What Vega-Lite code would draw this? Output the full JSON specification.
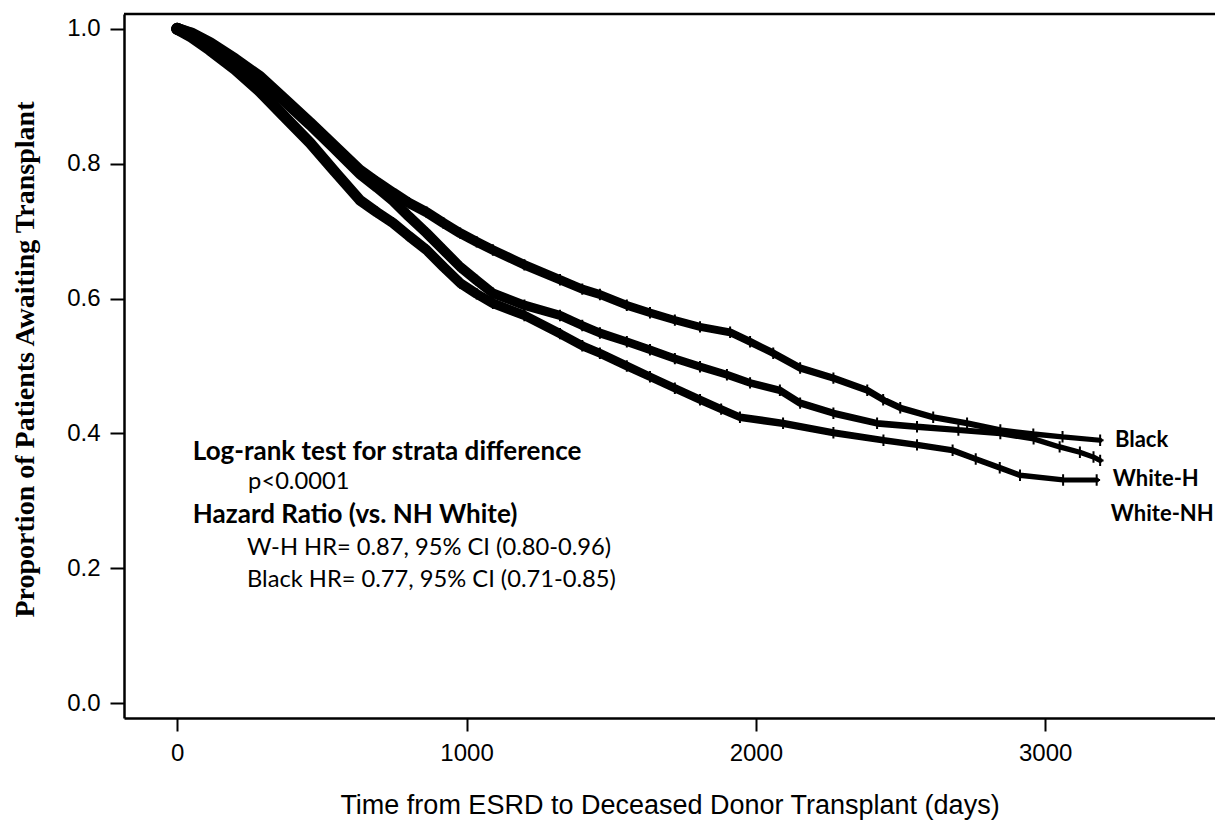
{
  "$schema": "https://vega.github.io/schema/vega-lite/v6.json",
  "width": 1091,
  "height": 704,
  "autosize": {"type": "none"},
  "padding": {"left": 124, "top": 14, "right": 0, "bottom": 102},
  "background": "white",
  "config": {
    "view": {"stroke": null},
    "axis": {"grid": false}
  },
  "datasets": {
    "curves": [
      {"group": "Black", "t": 0, "s": 1.0},
      {"group": "Black", "t": 50, "s": 0.993},
      {"group": "Black", "t": 113, "s": 0.979},
      {"group": "Black", "t": 200, "s": 0.955},
      {"group": "Black", "t": 286, "s": 0.929},
      {"group": "Black", "t": 370, "s": 0.896},
      {"group": "Black", "t": 459, "s": 0.861},
      {"group": "Black", "t": 545, "s": 0.826},
      {"group": "Black", "t": 631, "s": 0.791},
      {"group": "Black", "t": 690, "s": 0.773},
      {"group": "Black", "t": 746, "s": 0.757},
      {"group": "Black", "t": 800, "s": 0.742},
      {"group": "Black", "t": 862, "s": 0.728},
      {"group": "Black", "t": 920, "s": 0.712},
      {"group": "Black", "t": 978, "s": 0.697},
      {"group": "Black", "t": 1035, "s": 0.684},
      {"group": "Black", "t": 1091, "s": 0.672},
      {"group": "Black", "t": 1200, "s": 0.65},
      {"group": "Black", "t": 1323, "s": 0.628},
      {"group": "Black", "t": 1400, "s": 0.614},
      {"group": "Black", "t": 1461, "s": 0.606},
      {"group": "Black", "t": 1554, "s": 0.59},
      {"group": "Black", "t": 1634, "s": 0.579},
      {"group": "Black", "t": 1720, "s": 0.568},
      {"group": "Black", "t": 1807, "s": 0.558},
      {"group": "Black", "t": 1911, "s": 0.55},
      {"group": "Black", "t": 1980, "s": 0.536},
      {"group": "Black", "t": 2060, "s": 0.519},
      {"group": "Black", "t": 2153, "s": 0.497},
      {"group": "Black", "t": 2268, "s": 0.482},
      {"group": "Black", "t": 2385, "s": 0.464},
      {"group": "Black", "t": 2440, "s": 0.45},
      {"group": "Black", "t": 2499, "s": 0.438},
      {"group": "Black", "t": 2613, "s": 0.424},
      {"group": "Black", "t": 2730, "s": 0.415},
      {"group": "Black", "t": 2845, "s": 0.405},
      {"group": "Black", "t": 2959, "s": 0.399},
      {"group": "Black", "t": 3060, "s": 0.395},
      {"group": "Black", "t": 3190, "s": 0.39},
      {"group": "White-H", "t": 0, "s": 1.0},
      {"group": "White-H", "t": 50, "s": 0.992},
      {"group": "White-H", "t": 113, "s": 0.977},
      {"group": "White-H", "t": 200, "s": 0.953},
      {"group": "White-H", "t": 286, "s": 0.926},
      {"group": "White-H", "t": 370, "s": 0.893},
      {"group": "White-H", "t": 459, "s": 0.858},
      {"group": "White-H", "t": 545, "s": 0.822},
      {"group": "White-H", "t": 631, "s": 0.785},
      {"group": "White-H", "t": 690, "s": 0.765},
      {"group": "White-H", "t": 746, "s": 0.745},
      {"group": "White-H", "t": 800, "s": 0.722},
      {"group": "White-H", "t": 862, "s": 0.697},
      {"group": "White-H", "t": 920, "s": 0.672},
      {"group": "White-H", "t": 978, "s": 0.647},
      {"group": "White-H", "t": 1035, "s": 0.627},
      {"group": "White-H", "t": 1091, "s": 0.608},
      {"group": "White-H", "t": 1200, "s": 0.59},
      {"group": "White-H", "t": 1323, "s": 0.575},
      {"group": "White-H", "t": 1400, "s": 0.56},
      {"group": "White-H", "t": 1461, "s": 0.549},
      {"group": "White-H", "t": 1554, "s": 0.536},
      {"group": "White-H", "t": 1634, "s": 0.524},
      {"group": "White-H", "t": 1720, "s": 0.511},
      {"group": "White-H", "t": 1807, "s": 0.499},
      {"group": "White-H", "t": 1900, "s": 0.487},
      {"group": "White-H", "t": 1980, "s": 0.475},
      {"group": "White-H", "t": 2083, "s": 0.464},
      {"group": "White-H", "t": 2153, "s": 0.445},
      {"group": "White-H", "t": 2268, "s": 0.43},
      {"group": "White-H", "t": 2419, "s": 0.415},
      {"group": "White-H", "t": 2557, "s": 0.41},
      {"group": "White-H", "t": 2700, "s": 0.405},
      {"group": "White-H", "t": 2845, "s": 0.4},
      {"group": "White-H", "t": 2960, "s": 0.392},
      {"group": "White-H", "t": 3050, "s": 0.38},
      {"group": "White-H", "t": 3120, "s": 0.372},
      {"group": "White-H", "t": 3167, "s": 0.365},
      {"group": "White-H", "t": 3190, "s": 0.36},
      {"group": "White-NH", "t": 0, "s": 1.0},
      {"group": "White-NH", "t": 50, "s": 0.988},
      {"group": "White-NH", "t": 113, "s": 0.969},
      {"group": "White-NH", "t": 200, "s": 0.94},
      {"group": "White-NH", "t": 286, "s": 0.907},
      {"group": "White-NH", "t": 370, "s": 0.87},
      {"group": "White-NH", "t": 459, "s": 0.831},
      {"group": "White-NH", "t": 545, "s": 0.788},
      {"group": "White-NH", "t": 631, "s": 0.746},
      {"group": "White-NH", "t": 690, "s": 0.728},
      {"group": "White-NH", "t": 746, "s": 0.712},
      {"group": "White-NH", "t": 800, "s": 0.693},
      {"group": "White-NH", "t": 862, "s": 0.672},
      {"group": "White-NH", "t": 920, "s": 0.647},
      {"group": "White-NH", "t": 978, "s": 0.623},
      {"group": "White-NH", "t": 1035, "s": 0.607},
      {"group": "White-NH", "t": 1091, "s": 0.593},
      {"group": "White-NH", "t": 1200, "s": 0.575},
      {"group": "White-NH", "t": 1323, "s": 0.548},
      {"group": "White-NH", "t": 1400, "s": 0.53},
      {"group": "White-NH", "t": 1461, "s": 0.519},
      {"group": "White-NH", "t": 1554, "s": 0.5},
      {"group": "White-NH", "t": 1634, "s": 0.484},
      {"group": "White-NH", "t": 1720, "s": 0.467},
      {"group": "White-NH", "t": 1807, "s": 0.45},
      {"group": "White-NH", "t": 1880, "s": 0.436},
      {"group": "White-NH", "t": 1945, "s": 0.424},
      {"group": "White-NH", "t": 2094, "s": 0.415},
      {"group": "White-NH", "t": 2268, "s": 0.401},
      {"group": "White-NH", "t": 2441, "s": 0.39},
      {"group": "White-NH", "t": 2557, "s": 0.383},
      {"group": "White-NH", "t": 2680, "s": 0.375},
      {"group": "White-NH", "t": 2760, "s": 0.362},
      {"group": "White-NH", "t": 2843, "s": 0.349},
      {"group": "White-NH", "t": 2913, "s": 0.338},
      {"group": "White-NH", "t": 3062, "s": 0.331},
      {"group": "White-NH", "t": 3178, "s": 0.331}
    ],
    "boldNotes": [
      {"label": "Log-rank test for strata difference", "t": 54, "s": 0.373},
      {"label": "Hazard Ratio (vs. NH White)", "t": 54, "s": 0.279}
    ],
    "plainNotes": [
      {"label": "p<0.0001", "t": 245, "s": 0.328},
      {"label": "W-H HR= 0.87, 95% CI (0.80-0.96)", "t": 241, "s": 0.23},
      {"label": "Black HR= 0.77, 95% CI (0.71-0.85)", "t": 241, "s": 0.182}
    ],
    "curveLabels": [
      {"label": "Black", "t": 3241, "s": 0.39},
      {"label": "White-H", "t": 3234, "s": 0.332},
      {"label": "White-NH", "t": 3227, "s": 0.28}
    ]
  },
  "layer": [
    {
      "data": {"name": "curves"},
      "mark": {"type": "trail", "color": "black"},
      "encoding": {
        "x": {
          "field": "t", "type": "quantitative",
          "scale": {"domain": [-184, 3587], "nice": false, "zero": false},
          "axis": {
            "values": [0, 1000, 2000, 3000], "format": "d",
            "title": "Time from ESRD to Deceased Donor Transplant (days)",
            "domainColor": "black", "domainWidth": 2.5,
            "tickColor": "black", "tickWidth": 2, "tickSize": 13,
            "labelFont": "Liberation Sans", "labelFontSize": 24, "labelColor": "black", "labelPadding": 10,
            "titleFont": "Liberation Sans", "titleFontSize": 27, "titleFontWeight": "normal", "titleColor": "black",
            "titleBaseline": "alphabetic", "titleY": 95
          }
        },
        "y": {
          "field": "s", "type": "quantitative",
          "scale": {"domain": [-0.022, 1.022], "nice": false, "zero": false},
          "axis": {
            "values": [0, 0.2, 0.4, 0.6, 0.8, 1.0], "format": ".1f",
            "title": "Proportion of Patients Awaiting Transplant",
            "domainColor": "black", "domainWidth": 2.5,
            "tickColor": "black", "tickWidth": 2, "tickSize": 14,
            "labelFont": "Liberation Sans", "labelFontSize": 24, "labelColor": "black", "labelPadding": 10,
            "titleFont": "Liberation Serif", "titleFontSize": 28, "titleFontWeight": "bold", "titleColor": "black",
            "titleX": -99, "titleY": 345, "titleAngle": -90, "titleAlign": "center", "titleBaseline": "middle"
          }
        },
        "detail": {"field": "group"},
        "size": {
          "field": "t", "type": "quantitative",
          "scale": {"domain": [0, 3200], "range": [12, 5]},
          "legend": null
        }
      }
    },
    {
      "data": {"name": "curves"},
      "mark": {
        "type": "point",
        "shape": "M0,-1V1M-0.6,0H0.6",
        "filled": false,
        "stroke": "black",
        "strokeWidth": 2,
        "size": 130,
        "opacity": 1
      },
      "encoding": {
        "x": {"field": "t", "type": "quantitative"},
        "y": {"field": "s", "type": "quantitative"}
      }
    },
    {
      "data": {"values": [{"top": 1.022}]},
      "mark": {"type": "rule", "color": "black", "strokeWidth": 2.5},
      "encoding": {"y": {"field": "top", "type": "quantitative"}}
    },
    {
      "data": {"name": "boldNotes"},
      "mark": {"type": "text", "font": "Lato", "fontWeight": "bold", "fontSize": 26, "align": "left", "baseline": "middle", "color": "black"},
      "encoding": {
        "x": {"field": "t", "type": "quantitative"},
        "y": {"field": "s", "type": "quantitative"},
        "text": {"field": "label"}
      }
    },
    {
      "data": {"name": "plainNotes"},
      "mark": {"type": "text", "font": "Lato", "fontSize": 23.7, "align": "left", "baseline": "middle", "color": "black"},
      "encoding": {
        "x": {"field": "t", "type": "quantitative"},
        "y": {"field": "s", "type": "quantitative"},
        "text": {"field": "label"}
      }
    },
    {
      "data": {"name": "curveLabels"},
      "mark": {"type": "text", "font": "Lato", "fontWeight": "bold", "fontSize": 22, "align": "left", "baseline": "middle", "color": "black"},
      "encoding": {
        "x": {"field": "t", "type": "quantitative"},
        "y": {"field": "s", "type": "quantitative"},
        "text": {"field": "label"}
      }
    }
  ]
}
